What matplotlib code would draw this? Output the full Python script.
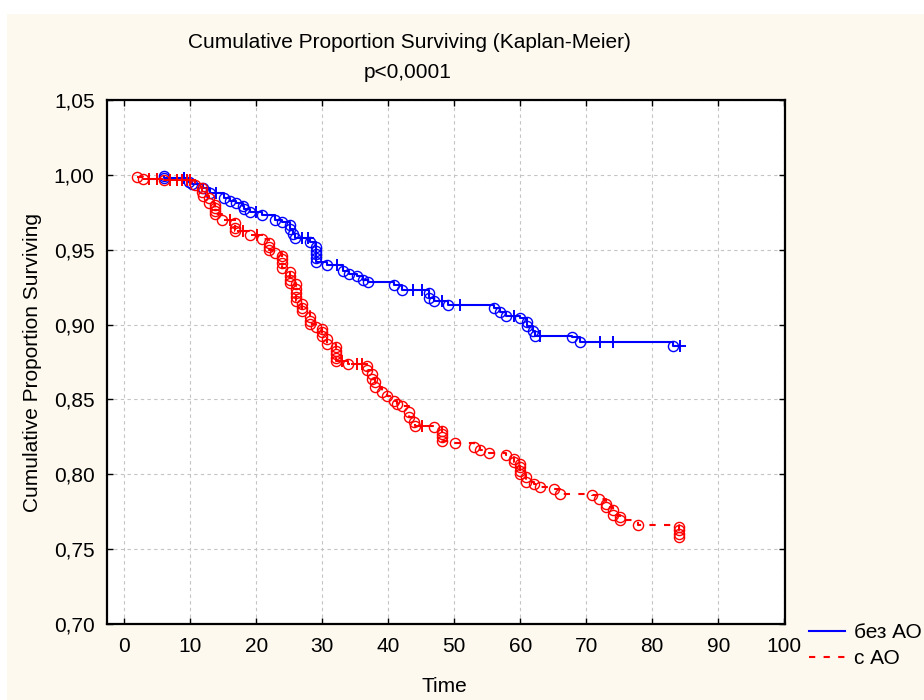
import matplotlib
matplotlib.use('Agg')
import matplotlib.pyplot as plt
import numpy as np
from matplotlib.patches import Rectangle
from matplotlib.lines import Line2D

plt.rcParams['font.family'] = ['Liberation Sans', 'DejaVu Sans']

# ---------------- data ----------------
groups = ['без АО', 'с АО']

blue_event_t = [6.0, 6.0, 9.8, 10.2, 12.0, 13.0, 15.05, 15.96, 17.0, 18.0, 18.1, 19.1,
                20.9, 22.9, 23.9, 25.05, 25.05, 25.5, 25.9, 28.1, 29.1, 29.1, 29.1,
                29.1, 29.1, 30.8, 33.1, 34.0, 35.2, 36.2, 37.0, 40.8, 42.1, 46.1, 46.1,
                47.0, 49.1, 56.06, 56.97, 57.9, 60.0, 61.0, 61.0, 62.0, 62.2, 67.9,
                69.1, 83.1]
blue_event_s = [0.9994, 0.9982, 0.9955, 0.9937, 0.9912, 0.9880, 0.9848, 0.9826, 0.9814,
                0.9790, 0.9770, 0.9750, 0.9730, 0.9700, 0.9685, 0.9668, 0.9637, 0.9605,
                0.9580, 0.9552, 0.9520, 0.9492, 0.9470, 0.9443, 0.9415, 0.9397, 0.9359,
                0.9340, 0.9325, 0.9300, 0.9285, 0.9263, 0.9232, 0.9210, 0.9180, 0.9155,
                0.9130, 0.9114, 0.9085, 0.9060, 0.9042, 0.9018, 0.8988, 0.8959, 0.8925,
                0.8915, 0.8885, 0.8860]
blue_cens_t = [9.0, 13.9, 20.0, 26.9, 27.8, 32.2, 43.8, 45.1, 48.1, 50.8, 59.1, 63.0,
               72.1, 74.0, 84.2]

red_event_t = [1.9, 2.9, 5.96, 10.8, 11.8, 11.8, 12.0, 12.9, 12.9, 13.8, 13.8, 13.8,
               13.8, 14.8, 16.8, 16.8, 16.8, 19.0, 20.9, 22.0, 22.0, 22.0, 22.9, 23.9,
               23.9, 23.9, 23.9, 25.15, 25.15, 25.15, 25.15, 26.06, 26.06, 26.06, 26.06,
               26.06, 26.9, 26.9, 26.9, 28.2, 28.2, 28.2, 29.05, 29.95, 29.95, 29.95,
               30.8, 30.8, 32.1, 32.1, 32.1, 32.1, 32.1, 33.9, 36.8, 36.8, 37.5, 37.5,
               38.0, 38.0, 39.0, 39.8, 40.8, 41.3, 42.1, 43.1, 43.1, 43.9, 44.0, 46.9,
               48.1, 48.1, 48.1, 48.1, 50.05, 53.0, 53.9, 55.2, 57.9, 59.0, 59.0, 60.0,
               60.0, 60.0, 60.0, 60.9, 60.9, 62.1, 63.0, 65.15, 66.06, 70.9, 72.0, 73.0,
               73.0, 74.0, 74.0, 75.15, 75.15, 77.9, 84.1, 84.1, 84.1, 84.1]
red_event_s = [0.9985, 0.9975, 0.9963, 0.9935, 0.9915, 0.9885, 0.9859, 0.9848, 0.9815,
               0.9800, 0.9780, 0.9760, 0.9740, 0.9697, 0.9680, 0.9648, 0.9625, 0.9597,
               0.9570, 0.9548, 0.9520, 0.9499, 0.9477, 0.9459, 0.9437, 0.9410, 0.9381,
               0.9348, 0.9325, 0.9300, 0.9280, 0.9270, 0.9240, 0.9210, 0.9185, 0.9159,
               0.9135, 0.9110, 0.9092, 0.9048, 0.9025, 0.9003, 0.8981, 0.8970, 0.8948,
               0.8925, 0.8903, 0.8870, 0.8848, 0.8825, 0.8803, 0.8780, 0.8759, 0.8737,
               0.8725, 0.8698, 0.8670, 0.8637, 0.8615, 0.8581, 0.8548, 0.8525, 0.8492,
               0.8470, 0.8459, 0.8415, 0.8381, 0.8348, 0.8325, 0.8315, 0.8292, 0.8270,
               0.8248, 0.8225, 0.8208, 0.8180, 0.8165, 0.8141, 0.8130, 0.8103, 0.8081,
               0.8070, 0.8048, 0.8025, 0.8003, 0.7980, 0.7948, 0.7937, 0.7915, 0.7903,
               0.7870, 0.7860, 0.7832, 0.7803, 0.7780, 0.7759, 0.7725, 0.7715, 0.7692,
               0.7659, 0.7648, 0.7625, 0.7600, 0.7581]
red_cens_t = [3.8, 4.95, 7.0, 8.0, 8.7, 9.5, 10.0, 15.96, 18.0, 20.1, 33.0, 35.25, 36.0,
              45.1]

x_ticks = [0, 10, 20, 30, 40, 50, 60, 70, 80, 90, 100]
y_ticks = [0.70, 0.75, 0.80, 0.85, 0.90, 0.95, 1.00, 1.05]

title_text = 'Cumulative Proportion Surviving (Kaplan-Meier)'
subtitle_text = 'p<0,0001'
x_label = 'Time'
y_label = 'Cumulative Proportion Surviving'

# ---------------- figure ----------------
W, H = 924, 700
FS = 15
fig = plt.figure(figsize=(W / 100, H / 100), dpi=100, facecolor='white')
fig.patches.append(Rectangle((7 / W, 0), 1, 1 - 14 / H, transform=fig.transFigure,
                             facecolor='#fdf9ef', edgecolor='none', zorder=-10))

ax = fig.add_axes([107 / W, 1 - 624 / H, (785 - 107) / W, (624 - 100) / H])
ax.set_facecolor('white')
ax.set_xlim(-2.6, 100.1)
ax.set_ylim(0.70, 1.05)


def surv_at(t, et, es):
    idx = np.searchsorted(np.asarray(et), t, side='right') - 1
    return es[idx] if idx >= 0 else 1.0


def draw_group(et, es, ct, color, ls, z):
    end = max(max(et), max(ct))
    xs = list(et) + [end]
    ys = list(es) + [es[-1]]
    ax.step(xs, ys, where='post', color=color, lw=1.5, linestyle=ls, zorder=z)
    ax.plot(et, es, linestyle='none', marker='o', ms=7.3, mfc='none', mec=color,
            mew=1.0, zorder=z + 0.1)
    cy = [surv_at(t, et, es) for t in ct]
    ax.plot(ct, cy, linestyle='none', marker='+', ms=8, color=color, mew=1.4,
            zorder=z + 0.1)


draw_group(blue_event_t, blue_event_s, blue_cens_t, '#0000ff', '-', 3)
draw_group(red_event_t, red_event_s, red_cens_t, '#ff0000', (0, (3, 4)), 4)

ax.set_xticks(x_ticks)
ax.set_yticks(y_ticks)
ax.set_xticklabels([str(v) for v in x_ticks])
ax.set_yticklabels([f'{v:.2f}'.replace('.', ',') for v in y_ticks])
ax.tick_params(direction='in', length=4, width=1, labelsize=FS, pad=9,
               top=True, right=True, colors='black')
ax.grid(True, color='#c4c4c4', linestyle=(0, (3, 3)), lw=0.8)
ax.set_axisbelow(True)
for sp in ax.spines.values():
    sp.set_linewidth(1.6)
    sp.set_color('black')

fig.text(409.5 / W, 1 - 42 / H, title_text, ha='center', va='center', fontsize=FS)
fig.text(408 / W, 1 - 73 / H, subtitle_text, ha='center', va='center', fontsize=FS)
fig.text(444 / W, 1 - 686 / H, x_label, ha='center', va='center', fontsize=FS)
fig.text(33 / W, 1 - 362 / H, y_label, ha='center', va='center', rotation=90,
         fontsize=FS)

handles = [Line2D([], [], color='#0000ff', lw=1.5),
           Line2D([], [], color='#ff0000', lw=1.5, linestyle=(0, (3, 4)))]
fig.legend(handles, groups, loc='upper left', bbox_to_anchor=(809 / W, 1 - 623 / H),
           frameon=False, fontsize=FS, handlelength=1.75, handletextpad=0.4,
           labelspacing=0.35, borderpad=0.0, borderaxespad=0.0)

fig.savefig('out.png', dpi=100, facecolor=fig.get_facecolor())
